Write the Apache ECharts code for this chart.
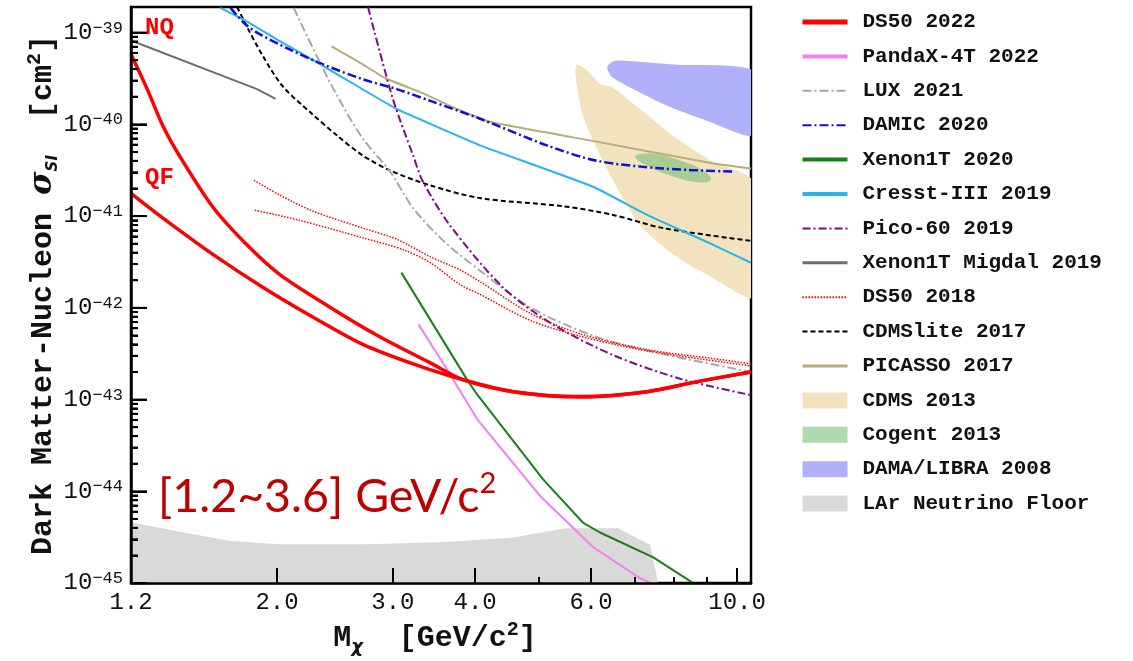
<!DOCTYPE html>
<html><head><meta charset="utf-8">
<script src="https://cdn.jsdelivr.net/npm/echarts@6/dist/echarts.min.js"></script>
<style>html,body{margin:0;padding:0;background:#fff}#c{width:1133px;height:661px}</style>
</head><body><div id="c"></div>
<script>
// ---------- axis ticks ----------
const xLabelTicks = [1.2, 2, 3, 4, 6, 10];
const xMajorTicks = [2, 3, 4, 6, 10];
const xMinorTicks = [5, 7, 8, 9];
const yMajorTicks = [1e-45, 1e-44, 1e-43, 1e-42, 1e-41, 1e-40, 1e-39];
const yMinorTicks = [];
for (let k = -45; k <= -40; k++) for (let m = 2; m <= 9; m++) yMinorTicks.push(Number(m + 'e' + k));
const xMin = 1.2, xMax = 10.5;
const yMin = 1e-45, yMax = 1.9e-39;
const yTickUnit = 1e-45; // tick overlay axes are expressed in units of 1e-45 cm^2

// ---------- data (mass GeV/c^2, cross-section cm^2) ----------
const ds50NqX = [1.2, 1.27, 1.342, 1.424, 1.60, 1.80, 2.02, 2.41, 2.87, 3.42, 3.84, 4.57, 5.78, 7.30, 8.70, 10.5];
const ds50NqY = [5.8e-40, 2.42e-40, 9.6e-41, 4.46e-41, 1.24e-41, 4.86e-42, 2.3e-42, 1.01e-42, 4.8e-43, 2.51e-43, 1.64e-43, 1.22e-43, 1.07e-43, 1.22e-43, 1.57e-43, 2.0e-43];
const ds50QfX = [1.2, 1.342, 1.60, 1.905, 2.27, 2.70, 3.22, 3.84, 4.57, 5.78, 7.30, 8.70, 10.5];
const ds50QfY = [1.77e-41, 9.5e-42, 3.8e-42, 1.67e-42, 7.9e-43, 4.0e-43, 2.45e-43, 1.64e-43, 1.22e-43, 1.08e-43, 1.22e-43, 1.57e-43, 2.0e-43];
const pandaX = [3.28, 3.63, 4.03, 5.02, 6.03, 7.12, 7.42];
const pandaY = [6.6e-43, 2.1e-43, 6.1e-44, 8.9e-45, 2.5e-45, 1.13e-45, 1.0e-45];
const luxX = [2.12, 2.30, 2.47, 2.70, 2.97, 3.22, 3.58, 4.07, 4.85, 6.13, 7.72, 10.5];
const luxY = [1.86e-39, 5.5e-40, 2.03e-40, 7.0e-41, 3.06e-41, 1.22e-41, 5.37e-42, 2.54e-42, 1.01e-42, 4.8e-43, 3.14e-43, 2.0e-43];
const damicX = [1.70, 1.78, 1.865, 2.09, 2.35, 2.70, 3.04, 3.42, 4.07, 5.14, 6.13, 7.72, 9.83];
const damicY = [1.86e-39, 1.28e-39, 1.0e-39, 6.55e-40, 4.5e-40, 3.1e-40, 2.42e-40, 1.8e-40, 1.15e-40, 5.9e-41, 4.0e-41, 3.3e-41, 3.06e-41];
const xenonX = [3.09, 3.89, 4.03, 5.07, 5.83, 6.19, 7.46, 8.58];
const xenonY = [2.42e-42, 1.64e-43, 1.13e-43, 1.36e-44, 4.57e-45, 3.56e-45, 1.91e-45, 1.0e-45];
const cresstX = [1.64, 1.78, 2.0, 2.30, 2.65, 3.04, 3.42, 4.07, 6.03, 7.30, 9.20, 10.5];
const cresstY = [1.86e-39, 1.38e-39, 8.4e-40, 4.74e-40, 2.6e-40, 1.47e-40, 1.01e-40, 5.9e-41, 2.1e-41, 1.03e-41, 4.86e-42, 3.1e-42];
const picoX = [2.75, 3.0, 3.22, 3.33, 3.66, 4.41, 5.25, 6.48, 8.19, 10.5];
const picoY = [1.9e-39, 1.89e-40, 4.57e-41, 2.4e-41, 8.0e-42, 1.67e-42, 6.6e-43, 3.06e-43, 1.69e-43, 1.12e-43];
const migdalX = [1.2, 1.865, 1.99];
const migdalY = [8.2e-40, 2.42e-40, 1.89e-40];
const ds18UpX = [1.845, 2.02, 2.27, 2.70, 3.04, 3.42, 3.79, 4.07, 4.85, 5.78, 7.30, 9.20, 10.5];
const ds18UpY = [2.45e-41, 1.69e-41, 1.13e-41, 7.4e-42, 5.6e-42, 3.6e-42, 2.6e-42, 1.93e-42, 8.7e-43, 5.2e-43, 3.5e-43, 2.8e-43, 2.45e-43];
const ds18LoX = [1.85, 2.15, 2.70, 3.11, 3.42, 3.79, 4.07, 4.85, 5.78, 7.30, 10.5];
const ds18LoY = [1.16e-41, 9.1e-42, 5.8e-42, 4.3e-42, 3.1e-42, 1.8e-42, 1.4e-42, 7.3e-43, 4.9e-43, 3.4e-43, 2.33e-43];
const cdmsliteX = [1.74, 1.80, 1.905, 2.04, 2.245, 2.47, 2.70, 2.97, 3.42, 4.07, 5.44, 6.48, 7.72, 10.5];
const cdmsliteY = [1.9e-39, 1.16e-39, 5.5e-40, 2.6e-40, 1.36e-40, 7.5e-41, 4.57e-41, 3.14e-41, 2.16e-41, 1.57e-41, 1.28e-41, 1.03e-41, 7.4e-42, 5.37e-42];
const picassoX = [2.42, 2.70, 2.92, 3.33, 3.75, 4.22, 6.03, 9.20, 10.5];
const picassoY = [7.06e-40, 4.5e-40, 3.18e-40, 2.19e-40, 1.47e-40, 1.06e-40, 6.6e-41, 3.74e-41, 3.3e-41];
// closed regions
const cdms13X = [5.71, 5.94, 6.19, 6.46, 7.12, 8.0, 9.01, 10.7, 10.7, 9.01, 8.0, 7.12, 6.58, 6.13, 5.83, 5.68];
const cdms13Y = [4.5e-40, 3.78e-40, 2.74e-40, 2.54e-40, 1.47e-40, 7.5e-41, 4.24e-41, 2.2e-41, 1.3e-42, 2.3e-42, 3.8e-42, 8.0e-42, 2.0e-41, 5.4e-41, 1.24e-40, 3.52e-40];
const cogentX = [7.00, 7.38, 8.19, 8.88, 9.13, 8.79, 8.0, 7.30];
const cogentY = [4.46e-41, 4.8e-41, 4.03e-41, 3.14e-41, 2.51e-41, 2.33e-41, 2.7e-41, 3.56e-41];
const damaX = [6.35, 6.48, 6.64, 8.0, 10.7, 10.7, 9.01, 7.83, 6.95, 6.46];
const damaY = [4.19e-40, 4.86e-40, 4.97e-40, 4.5e-40, 3.7e-40, 7.6e-41, 1.09e-40, 1.59e-40, 2.42e-40, 3.27e-40];
const floorX = [1.2, 1.43, 1.69, 2.01, 2.74, 3.62, 4.57, 5.48, 6.60, 7.38, 7.59, 1.2];
const floorY = [4.6e-45, 3.6e-45, 2.9e-45, 2.65e-45, 2.65e-45, 2.8e-45, 3.15e-45, 3.95e-45, 3.95e-45, 2.6e-45, 1.0e-45, 1.0e-45];

const legendNames = ['DS50 2022', 'PandaX-4T 2022', 'LUX 2021', 'DAMIC 2020', 'Xenon1T 2020', 'Cresst-III 2019',
  'Pico-60 2019', 'Xenon1T Migdal 2019', 'DS50 2018', 'CDMSlite 2017', 'PICASSO 2017', 'CDMS 2013', 'Cogent 2013',
  'DAMA/LIBRA 2008', 'LAr Neutrino Floor'];
const areaNames = ['CDMS 2013', 'Cogent 2013', 'DAMA/LIBRA 2008', 'LAr Neutrino Floor'];
const legendLineWidth = { 'DS50 2022': 5, 'PandaX-4T 2022': 4, 'Xenon1T 2020': 4, 'Cresst-III 2019': 4, 'Xenon1T Migdal 2019': 3, 'PICASSO 2017': 3 };

// ---------- helpers ----------
const mono = "'Liberation Mono', 'DejaVu Sans Mono', monospace";
function pts(xs, ys) { return xs.map((x, i) => [x, ys[i]]); }
function toUnit(v) { return Number((v / yTickUnit).toPrecision(12)); }
function lineSeries(name, xs, ys, style, smooth) {
  return {
    type: 'line', name: name, data: pts(xs, ys), symbol: 'none', showSymbol: false,
    smooth: smooth === undefined ? 0.3 : smooth, z: 5, clip: true, silent: true,
    color: style.color, lineStyle: style, itemStyle: { color: style.color }
  };
}
function polySeries(name, xs, ys, color, smooth, z) {
  return {
    type: 'custom', name: name, clip: true, silent: true, z: z,
    itemStyle: { color: color }, color: color,
    data: [[xs[0], ys[0]]], encode: { x: 0, y: 1 },
    renderItem: function (params, api) {
      const points = xs.map((x, i) => api.coord([x, ys[i]]));
      return { type: 'polygon', shape: { points: points, smooth: smooth }, style: { fill: color } };
    }
  };
}
// inside tick marks along the left axis, placed through the y scale
function yTickSeries(name, values, len) {
  return {
    type: 'custom', name: name, silent: true, clip: false, z: 12,
    data: [[xMin, values[0]]], encode: { x: 0, y: 1 },
    renderItem: function (params, api) {
      return { type: 'group', children: values.map(v => {
        const p = api.coord([xMin, v]);
        return { type: 'line', shape: { x1: p[0], y1: p[1], x2: p[0] + len, y2: p[1] },
                 style: { stroke: '#000', lineWidth: 2 } };
      }) };
    }
  };
}

const series = [
  polySeries('LAr Neutrino Floor', floorX, floorY, '#d9d9d9', 0, 1),
  polySeries('CDMS 2013', cdms13X, cdms13Y, '#f2e3be', 0.25, 2),
  polySeries('DAMA/LIBRA 2008', damaX, damaY, '#b1b1fa', 0.25, 2),
  polySeries('Cogent 2013', cogentX, cogentY, 'rgba(110,185,110,0.55)', 0.45, 3),
  lineSeries('PICASSO 2017', picassoX, picassoY, { color: '#b5ae79', width: 2 }, 0.1),
  lineSeries('CDMSlite 2017', cdmsliteX, cdmsliteY, { color: '#000', width: 2, type: [5, 3] }),
  lineSeries('Cresst-III 2019', cresstX, cresstY, { color: '#22b5ef', width: 2 }, 0.15),
  lineSeries('DAMIC 2020', damicX, damicY, { color: '#1010d0', width: 2.5, type: [9, 3, 2, 3] }),
  lineSeries('LUX 2021', luxX, luxY, { color: '#a8a8a8', width: 2, type: [9, 3, 2, 3] }),
  lineSeries('Pico-60 2019', picoX, picoY, { color: '#7e0a86', width: 2, type: [8, 3, 2, 3] }),
  lineSeries('Xenon1T Migdal 2019', migdalX, migdalY, { color: '#6e6e6e', width: 2 }, 0),
  lineSeries('DS50 2018', ds18UpX, ds18UpY, { color: '#f00', width: 1.5, type: [1.5, 1.5] }),
  lineSeries('DS50 2018', ds18LoX, ds18LoY, { color: '#f00', width: 1.5, type: [1.5, 1.5] }),
  lineSeries('Xenon1T 2020', xenonX, xenonY, { color: '#1a7f1a', width: 2 }, 0),
  lineSeries('PandaX-4T 2022', pandaX, pandaY, { color: '#ee82ee', width: 2 }, 0),
  lineSeries('DS50 2022', ds50NqX, ds50NqY, { color: '#ff0000', width: 3.5 }),
  lineSeries('DS50 2022', ds50QfX, ds50QfY, { color: '#ff0000', width: 3.5 }),
  yTickSeries('yMajorTickMarks', yMajorTicks, 16),
  yTickSeries('yMinorTickMarks', yMinorTicks, 7)
];

const tickStyle = { color: '#000', width: 2 };
const chart = echarts.init(document.getElementById('c'), null, { renderer: 'canvas' });
chart.setOption({
  animation: false,
  backgroundColor: '#fff',
  grid: { left: 131, right: 382, top: 7, bottom: 73, show: true, borderColor: '#000', borderWidth: 2.5 },
  legend: {
    orient: 'vertical', left: 800, top: 10, padding: 0, itemWidth: 45, itemHeight: 16, itemGap: 10.4,
    selectedMode: false,
    textStyle: { fontFamily: mono, fontWeight: 'bold', fontSize: 21, color: '#111', lineHeight: 24, padding: [0, 0, 0, 10] },
    data: legendNames.map(n => areaNames.indexOf(n) >= 0
      ? { name: n, icon: 'rect', itemStyle: { opacity: 1 } }
      : { name: n, itemStyle: { opacity: 0 }, lineStyle: legendLineWidth[n] ? { width: legendLineWidth[n] } : {} })
  },
  xAxis: [{
    type: 'log', min: xMin, max: xMax, position: 'bottom', z: 10,
    axisLine: { show: true, lineStyle: { color: '#000', width: 2.5 } },
    axisTick: { show: true, inside: true, length: 15, customValues: xMajorTicks, lineStyle: tickStyle },
    axisLabel: { customValues: xLabelTicks, margin: 8, formatter: v => Number(v).toFixed(1),
                 fontFamily: mono, fontSize: 24, color: '#111' },
    splitLine: { show: false }, minorTick: { show: false },
    name: '{t|M}{sub|χ}{t|  [GeV/c}{sup|2}{t|]}', nameLocation: 'middle', nameGap: 30,
    nameTextStyle: { padding: [0, 12, 0, 0], rich: {
      t: { fontFamily: mono, fontWeight: 'bold', fontSize: 30, lineHeight: 36, color: '#111' },
      sub: { fontFamily: "'DejaVu Sans'", fontWeight: 'bold', fontStyle: 'italic', fontSize: 18, lineHeight: 18, verticalAlign: 'bottom', color: '#111' },
      sup: { fontFamily: mono, fontWeight: 'bold', fontSize: 20, lineHeight: 20, verticalAlign: 'top', color: '#111' }
    } }
  }, {
    type: 'log', min: xMin, max: xMax, position: 'bottom', z: 10,
    axisLine: { show: false }, axisLabel: { show: false }, splitLine: { show: false },
    axisTick: { show: true, inside: true, length: 6, customValues: xMinorTicks, lineStyle: tickStyle }
  }],
  yAxis: [{
    type: 'log', min: yMin, max: yMax, position: 'left', z: 10,
    axisLine: { show: true, lineStyle: { color: '#000', width: 2.5 } },
    axisTick: { show: false }, axisLabel: { show: false },
    splitLine: { show: false }, minorTick: { show: false },
    name: '{t|Dark Matter-Nucleon }{g|σ}{sub|SI}{t|  [cm}{sup|2}{t|]}',
    nameLocation: 'middle', nameRotate: 90, nameGap: 70,
    nameTextStyle: { rich: {
      t: { fontFamily: mono, fontWeight: 'bold', fontSize: 30, lineHeight: 36, color: '#111' },
      g: { fontFamily: "'DejaVu Serif'", fontWeight: 'bold', fontStyle: 'italic', fontSize: 32, lineHeight: 36, color: '#111' },
      sub: { fontFamily: "'DejaVu Sans'", fontWeight: 'bold', fontStyle: 'italic', fontSize: 15, lineHeight: 16, verticalAlign: 'bottom', color: '#111' },
      sup: { fontFamily: mono, fontWeight: 'bold', fontSize: 20, lineHeight: 20, verticalAlign: 'top', color: '#111' }
    } }
  }, {
    // major ticks + labels (same log mapping, expressed in units of yTickUnit)
    type: 'log', min: toUnit(yMin), max: toUnit(yMax), position: 'left', z: 11,
    axisLine: { show: false }, splitLine: { show: false },
    axisTick: { show: true, inside: true, length: 16, customValues: yMajorTicks.map(toUnit), lineStyle: tickStyle },
    axisLabel: { customValues: yMajorTicks.map(toUnit), margin: 8,
      formatter: v => { const e = Math.round(Math.log10(v * yTickUnit)); return '{b|10}{s|' + (e < 0 ? '\u2212' : '') + Math.abs(e) + '}'; },
      rich: {
        b: { fontFamily: mono, fontSize: 24, lineHeight: 26, color: '#111' },
        s: { fontFamily: mono, fontSize: 17, lineHeight: 17, verticalAlign: 'top', color: '#111' }
      } }
  }, {
    // minor ticks
    type: 'log', min: toUnit(yMin), max: toUnit(yMax), position: 'left', z: 11,
    axisLine: { show: false }, axisLabel: { show: false }, splitLine: { show: false },
    axisTick: { show: true, inside: true, length: 7, customValues: yMinorTicks.map(toUnit), lineStyle: tickStyle }
  }],
  graphic: { elements: [
    { type: 'text', x: 145, y: 28, z: 20, silent: true,
      style: { text: 'NQ', fill: '#f00', fontFamily: mono, fontWeight: 'bold', fontSize: 24, verticalAlign: 'middle' } },
    { type: 'text', x: 145, y: 178, z: 20, silent: true,
      style: { text: 'QF', fill: '#f00', fontFamily: mono, fontWeight: 'bold', fontSize: 24, verticalAlign: 'middle' } },
    { type: 'text', x: 158, y: 497, z: 20, silent: true,
      style: { text: '{b|[1.2~3.6] GeV/c}{s|2}', verticalAlign: 'middle',
        rich: {
          b: { fontFamily: 'Lato', fontSize: 46.5, lineHeight: 56, fill: '#c00000', color: '#c00000' },
          s: { fontFamily: 'Lato', fontSize: 29, lineHeight: 31, verticalAlign: 'top', fill: '#c00000', color: '#c00000' }
        } } }
  ] },
  series: series
});
</script>
</body></html>
